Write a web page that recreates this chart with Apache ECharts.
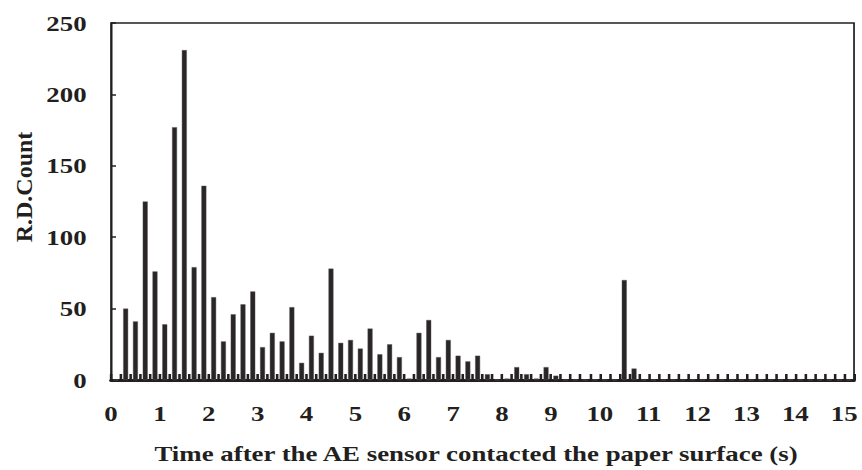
<!DOCTYPE html>
<html>
<head>
<meta charset="utf-8">
<script src="https://cdn.jsdelivr.net/npm/echarts@6/dist/echarts.min.js"></script>
<style>
html,body{margin:0;padding:0;background:#fff;overflow:hidden;width:862px;height:470px;}
#chart{width:706px;height:470px;transform:scaleX(1.221);transform-origin:0 0;}
</style>
</head>
<body>
<div id="chart"></div>
<script>
// Bin start times (s), 0.2 s bins
var categories = ['0.0','0.2','0.4','0.6','0.8','1.0','1.2','1.4','1.6','1.8',
  '2.0','2.2','2.4','2.6','2.8','3.0','3.2','3.4','3.6','3.8',
  '4.0','4.2','4.4','4.6','4.8','5.0','5.2','5.4','5.6','5.8',
  '6.0','6.2','6.4','6.6','6.8','7.0','7.2','7.4','7.6','7.8',
  '8.0','8.2','8.4','8.6','8.8','9.0','9.2','9.4','9.6','9.8',
  '10.0','10.2','10.4','10.6','10.8','11.0','11.2','11.4','11.6','11.8',
  '12.0','12.2','12.4','12.6','12.8','13.0','13.2','13.4','13.6','13.8',
  '14.0','14.2','14.4','14.6','14.8','15.0'];
// R.D. count per bin
var counts = [0,50,41,125,76,39,177,231,79,136,
  58,27,46,53,62,23,33,27,51,12,
  31,19,78,26,28,22,36,18,25,16,
  1,33,42,16,28,17,13,17,4,0,
  1,9,4,1,9,3,0,0,0,0,
  0,0,70,8,0,0,0,0,0,0,
  0,0,0,0,0,0,0,0,0,0,
  0,0,0,0,0,0];
var xTickLabels = ['0','1','2','3','4','5','6','7','8','9','10','11','12','13','14','15'];
var yTickLabels = ['0','50','100','150','200','250'];
var xTitle = 'Time after the AE sensor contacted the paper surface (s)';
var yTitle = 'R.D.Count';

var S = 1.221; // horizontal stretch of the original figure
var FONT = "'Liberation Serif', 'Times New Roman', serif";
var INK = '#231f20';

var chart = echarts.init(document.getElementById('chart'), null, {renderer: 'svg', width: 706, height: 470});
chart.setOption({
  animation: false,
  backgroundColor: '#fff',
  grid: {left: 111 / S, right: 8 / S, top: 23, bottom: 90, show: true, borderColor: INK, borderWidth: 1.4, backgroundColor: 'transparent'},
  xAxis: [{
    type: 'category',
    data: categories,
    boundaryGap: true,
    axisLine: {show: true, lineStyle: {color: INK, width: 3}},
    axisTick: {show: true, inside: true, length: 6, interval: 0, lineStyle: {color: INK, width: 2.1}},
    axisLabel: {show: false},
    splitLine: {show: false}
  }, {
    type: 'value',
    position: 'bottom',
    min: 0,
    max: 15.2,
    interval: 1,
    axisLine: {show: false},
    axisTick: {show: false},
    splitLine: {show: false},
    axisLabel: {
      show: true, margin: 22, color: INK, fontFamily: FONT, fontWeight: 'bold', fontSize: 22,
      formatter: function (v) { var i = Math.round(v); return (Math.abs(v - i) < 1e-6 && i < xTickLabels.length) ? xTickLabels[i] : ''; }
    }
  }],
  yAxis: {
    type: 'value',
    min: 0,
    max: 250,
    interval: 50,
    axisLine: {show: true, lineStyle: {color: INK, width: 1.3}},
    axisTick: {show: true, inside: true, length: 5 / S, lineStyle: {color: INK, width: 1.5}},
    splitLine: {show: false},
    axisLabel: {
      margin: 20, color: INK, fontFamily: FONT, fontWeight: 'bold', fontSize: 22,
      formatter: function (v) { return yTickLabels[Math.round(v / 50)]; }
    }
  },
  graphic: [{
    type: 'text', x: 476 / S, y: 453,
    style: {text: xTitle, fill: INK, fontFamily: FONT, fontWeight: 'bold', fontSize: 22, align: 'center', verticalAlign: 'middle'}
  }, {
    type: 'text', x: 24 / S, y: 187, rotation: Math.PI / 2, scaleY: 1 / S,
    style: {text: yTitle, fill: INK, fontFamily: FONT, fontWeight: 'bold', fontSize: 24, align: 'center', verticalAlign: 'middle'}
  }],
  series: [{
    type: 'bar',
    xAxisIndex: 0,
    data: counts,
    barWidth: 5 / S,
    itemStyle: {color: '#2a2627', borderColor: '#555', borderWidth: 0.4}
  }]
});
</script>
</body>
</html>
